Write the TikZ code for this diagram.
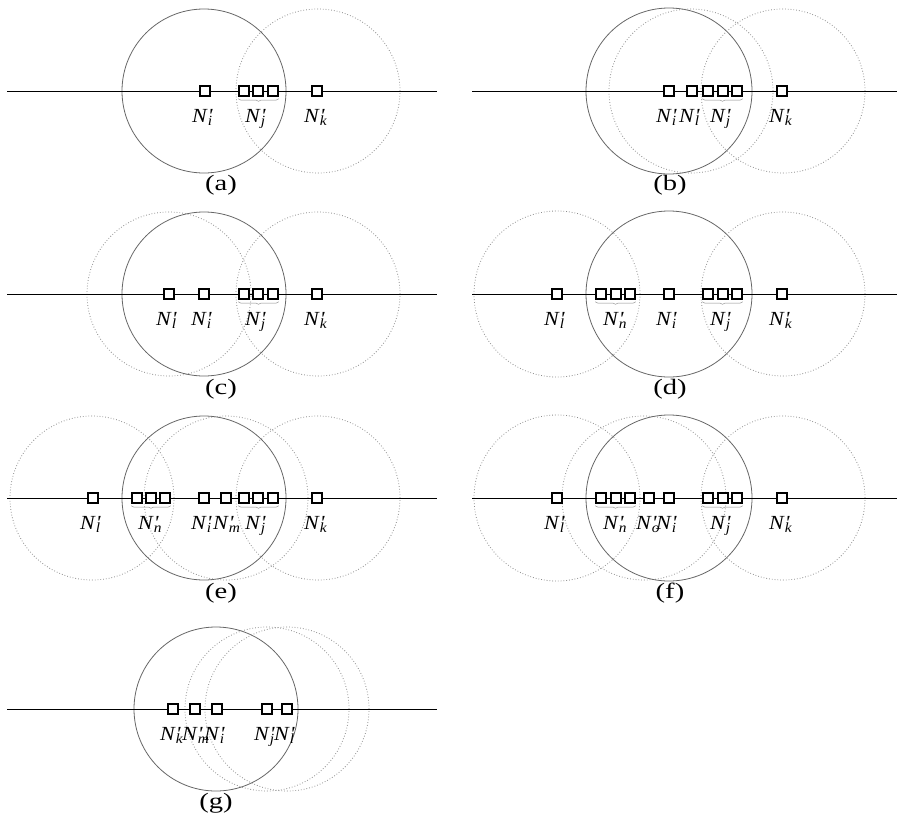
\documentclass[tikz,border=0pt]{standalone}
\usepackage{fontspec}
\setmainfont{Liberation Serif}
\newfontfamily\lblfont[FakeStretch=1.1]{Liberation Serif}
\newfontfamily\capfont[FakeStretch=1.3]{Liberation Serif}
\usepackage{tikz}
\usetikzlibrary{positioning,decorations.pathreplacing}
\definecolor{rangegray}{gray}{0.4}
\definecolor{reachgray}{gray}{0.55}

% node name N'_x, centred on the N
\newcommand{\nlab}[1]{\textit{N}\rlap{\textit{\textquotesingle}}\rlap{\textsubscript{\textit{#1}}}}

\tikzset{
  nd/.style={rectangle, draw=black, line width=1.6pt, fill=white, minimum size=10pt, inner sep=0pt},
  lbl/.style={inner sep=0pt, anchor=base, xshift=-5pt, font=\lblfont\fontsize{20}{22}\selectfont},
  panellbl/.style={font=\capfont\fontsize{22}{24}\selectfont},
  covsolid/.style={draw=rangegray, line width=0.8pt},
  covdot/.style={draw=reachgray, line width=0.8pt, dotted},
  grp/.style={draw=reachgray, line width=0.5pt, decorate, decoration={brace, mirror, amplitude=2.5pt}}
}

\begin{document}
\begin{tikzpicture}[x=1pt, y=-1pt]
  \useasboundingbox (0,0) rectangle (897,819);

  % (a)
  \draw[covsolid] (204,91) circle[radius=82pt];
  \draw[covdot] (318,91) circle[radius=82pt];
  \coordinate (aW) at (7,91); \coordinate (aE) at (437,91);
  \draw[line width=0.9pt] (aW) -- (aE);
  \node[nd] (aI) at (205,91) {};
  \foreach \x [count=\n] in {244,258,273} \node[nd] (aJ\n) at (\x,91) {};
  \node[nd] (aK) at (317,91) {};
  \draw[grp] ([yshift=-2pt]aJ1.south west) -- ([yshift=-2pt]aJ3.south east);
  \node[below=26pt of aI, lbl] {\nlab{i}};
  \node[below=26pt of aJ2, lbl] {\nlab{j}};
  \node[below=26pt of aK, lbl] {\nlab{k}};
  \node[panellbl] (aCap) at (221,185) {(a)};

  % (b)
  \draw[covsolid] (669,91) circle[radius=83pt];
  \draw[covdot] (691,91) circle[radius=82pt];
  \draw[covdot] (783,91) circle[radius=82pt];
  \coordinate (bW) at (472,91); \coordinate (bE) at (897,91);
  \draw[line width=0.9pt] (bW) -- (bE);
  \node[nd] (bI) at (669,91) {};
  \node[nd] (bL) at (692,91) {};
  \foreach \x [count=\n] in {708,723,737} \node[nd] (bJ\n) at (\x,91) {};
  \node[nd] (bK) at (782,91) {};
  \draw[grp] ([yshift=-2pt]bJ1.south west) -- ([yshift=-2pt]bJ3.south east);
  \node[below=26pt of bI, lbl] {\nlab{i}};
  \node[below=26pt of bL, lbl] {\nlab{l}};
  \node[below=26pt of bJ2, lbl] {\nlab{j}};
  \node[below=26pt of bK, lbl] {\nlab{k}};
  \node[panellbl] (bCap) at (670,185) {(b)};

  % (c)
  \draw[covdot] (169,294) circle[radius=82pt];
  \draw[covsolid] (204,294) circle[radius=82pt];
  \draw[covdot] (318,294) circle[radius=82pt];
  \coordinate (cW) at (7,294); \coordinate (cE) at (437,294);
  \draw[line width=0.9pt] (cW) -- (cE);
  \node[nd] (cL) at (169,294) {};
  \node[nd] (cI) at (204,294) {};
  \foreach \x [count=\n] in {244,258,273} \node[nd] (cJ\n) at (\x,294) {};
  \node[nd] (cK) at (317,294) {};
  \draw[grp] ([yshift=-2pt]cJ1.south west) -- ([yshift=-2pt]cJ3.south east);
  \node[below=26pt of cL, lbl] {\nlab{l}};
  \node[below=26pt of cI, lbl] {\nlab{i}};
  \node[below=26pt of cJ2, lbl] {\nlab{j}};
  \node[below=26pt of cK, lbl] {\nlab{k}};
  \node[panellbl] (cCap) at (221,389) {(c)};

  % (d)
  \draw[covdot] (557,294) circle[radius=83pt];
  \draw[covsolid] (669,294) circle[radius=83pt];
  \draw[covdot] (783,294) circle[radius=82pt];
  \coordinate (dW) at (472,294); \coordinate (dE) at (897,294);
  \draw[line width=0.9pt] (dW) -- (dE);
  \node[nd] (dL) at (557,294) {};
  \foreach \x [count=\n] in {601,616,630} \node[nd] (dN\n) at (\x,294) {};
  \node[nd] (dI) at (669,294) {};
  \foreach \x [count=\n] in {708,723,737} \node[nd] (dJ\n) at (\x,294) {};
  \node[nd] (dK) at (782,294) {};
  \draw[grp] ([yshift=-2pt]dN1.south west) -- ([yshift=-2pt]dN3.south east);
  \draw[grp] ([yshift=-2pt]dJ1.south west) -- ([yshift=-2pt]dJ3.south east);
  \node[below=26pt of dL, lbl] {\nlab{l}};
  \node[below=26pt of dN2, lbl] {\nlab{n}};
  \node[below=26pt of dI, lbl] {\nlab{i}};
  \node[below=26pt of dJ2, lbl] {\nlab{j}};
  \node[below=26pt of dK, lbl] {\nlab{k}};
  \node[panellbl] (dCap) at (670,389) {(d)};

  % (e)
  \draw[covdot] (92,498) circle[radius=82pt];
  \draw[covsolid] (204,498) circle[radius=82pt];
  \draw[covdot] (226,498) circle[radius=82pt];
  \draw[covdot] (318,498) circle[radius=82pt];
  \coordinate (eW) at (7,498); \coordinate (eE) at (437,498);
  \draw[line width=0.9pt] (eW) -- (eE);
  \node[nd] (eL) at (93,498) {};
  \foreach \x [count=\n] in {137,151,165} \node[nd] (eN\n) at (\x,498) {};
  \node[nd] (eI) at (204,498) {};
  \node[nd] (eM) at (226,498) {};
  \foreach \x [count=\n] in {244,258,273} \node[nd] (eJ\n) at (\x,498) {};
  \node[nd] (eK) at (317,498) {};
  \draw[grp] ([yshift=-2pt]eN1.south west) -- ([yshift=-2pt]eN3.south east);
  \draw[grp] ([yshift=-2pt]eJ1.south west) -- ([yshift=-2pt]eJ3.south east);
  \node[below=26pt of eL, lbl] {\nlab{l}};
  \node[below=26pt of eN2, lbl] {\nlab{n}};
  \node[below=26pt of eI, lbl] {\nlab{i}};
  \node[below=26pt of eM, lbl] {\nlab{m}};
  \node[below=26pt of eJ2, lbl] {\nlab{j}};
  \node[below=26pt of eK, lbl] {\nlab{k}};
  \node[panellbl] (eCap) at (221,593) {(e)};

  % (f)
  \draw[covdot] (557,498) circle[radius=83pt];
  \draw[covdot] (644,498) circle[radius=82pt];
  \draw[covsolid] (669,498) circle[radius=83pt];
  \draw[covdot] (783,498) circle[radius=82pt];
  \coordinate (fW) at (472,498); \coordinate (fE) at (897,498);
  \draw[line width=0.9pt] (fW) -- (fE);
  \node[nd] (fL) at (557,498) {};
  \foreach \x [count=\n] in {601,616,630} \node[nd] (fN\n) at (\x,498) {};
  \node[nd] (fO) at (649,498) {};
  \node[nd] (fI) at (669,498) {};
  \foreach \x [count=\n] in {708,723,737} \node[nd] (fJ\n) at (\x,498) {};
  \node[nd] (fK) at (782,498) {};
  \draw[grp] ([yshift=-2pt]fN1.south west) -- ([yshift=-2pt]fN3.south east);
  \draw[grp] ([yshift=-2pt]fJ1.south west) -- ([yshift=-2pt]fJ3.south east);
  \node[below=26pt of fL, lbl] {\nlab{l}};
  \node[below=26pt of fN2, lbl] {\nlab{n}};
  \node[below=26pt of fO, lbl] {\nlab{o}};
  \node[below=26pt of fI, lbl] {\nlab{i}};
  \node[below=26pt of fJ2, lbl] {\nlab{j}};
  \node[below=26pt of fK, lbl] {\nlab{k}};
  \node[panellbl] (fCap) at (670,593) {(f)};

  % (g)
  \draw[covsolid] (216,709) circle[radius=82pt];
  \draw[covdot] (267,709) circle[radius=82pt];
  \draw[covdot] (287,709) circle[radius=82pt];
  \coordinate (gW) at (7,709); \coordinate (gE) at (437,709);
  \draw[line width=0.9pt] (gW) -- (gE);
  \node[nd] (gK) at (173,709) {};
  \node[nd] (gM) at (195,709) {};
  \node[nd] (gI) at (217,709) {};
  \node[nd] (gJ) at (267,709) {};
  \node[nd] (gL) at (287,709) {};
  \node[below=26pt of gK, lbl] {\nlab{k}};
  \node[below=26pt of gM, lbl] {\nlab{m}};
  \node[below=26pt of gI, lbl] {\nlab{i}};
  \node[below=26pt of gJ, lbl] {\nlab{j}};
  \node[below=26pt of gL, lbl] {\nlab{l}};
  \node[panellbl] (gCap) at (216,803) {(g)};
\end{tikzpicture}
\end{document}
